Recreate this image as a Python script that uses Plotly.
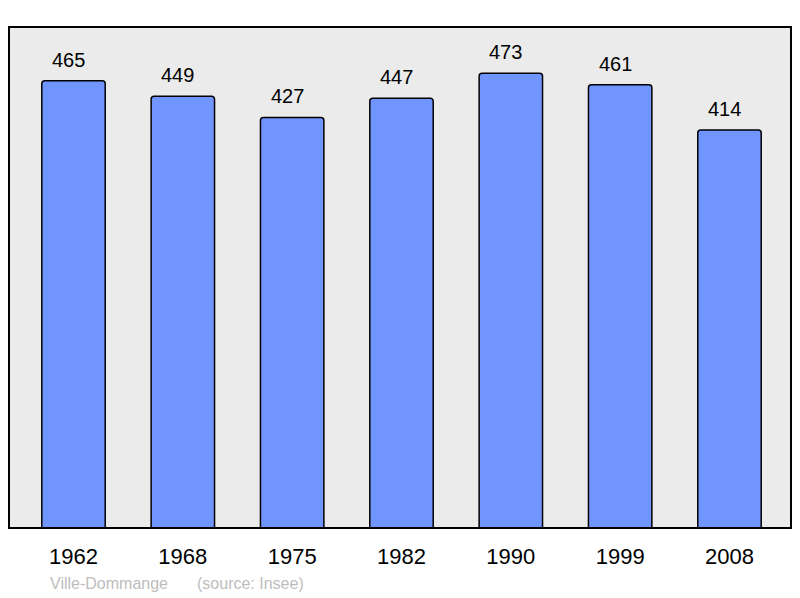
import plotly.graph_objects as go

years = ["1962", "1968", "1975", "1982", "1990", "1999", "2008"]
population = [465, 449, 427, 447, 473, 461, 414]
commune = "Ville-Dommange"
source = "(source: Insee)"

FONT = "Liberation Sans, Arial, sans-serif"

fig = go.Figure()
fig.add_trace(go.Bar(
    x=years, y=population,
    marker=dict(color="#7095ff", line=dict(color="#000000", width=1.5), cornerradius=3),
    width=0.58,
    hoverinfo="skip",
))

for i, v in enumerate(population):
    fig.add_annotation(x=i, y=v, xref="x", yref="y", text=str(v), showarrow=False,
                       yanchor="bottom", yshift=8, xshift=-5,
                       font=dict(size=20, color="#000000", family=FONT))

fig.add_annotation(xref="paper", yref="paper", x=0.0495, y=-0.111, xanchor="left", yanchor="middle",
                   text=commune, showarrow=False,
                   font=dict(size=16, color="#bdbdbd", family=FONT))
fig.add_annotation(xref="paper", yref="paper", x=0.2375, y=-0.111, xanchor="left", yanchor="middle",
                   text=source, showarrow=False,
                   font=dict(size=16, color="#bdbdbd", family=FONT))

fig.update_layout(
    width=800, height=598,
    margin=dict(l=9, r=9, t=27, b=70),
    paper_bgcolor="#ffffff",
    plot_bgcolor="#ebebeb",
    showlegend=False,
    font=dict(family=FONT, color="#000000"),
    xaxis=dict(type="category", range=[-0.59, 6.5625], showgrid=False, zeroline=False,
               ticks="outside", ticklen=9, tickcolor="rgba(0,0,0,0)",
               tickfont=dict(size=22, color="#000000"), fixedrange=True),
    yaxis=dict(range=[0, 521], showgrid=False, zeroline=False, showticklabels=False,
               fixedrange=True),
    shapes=[dict(type="rect", xref="paper", yref="paper", x0=0, y0=0, x1=1, y1=1,
                 line=dict(color="#000000", width=2), layer="above")],
)

fig.write_html("out.html", config={"displayModeBar": False},
               post_script="document.body.style.margin='0';document.body.style.overflow='hidden';")
